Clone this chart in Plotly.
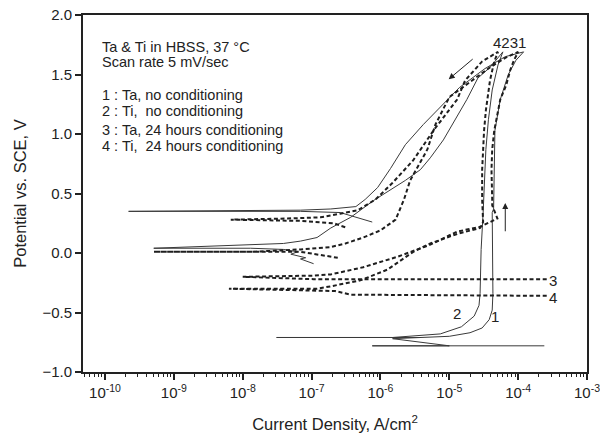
import numpy as np
import plotly.graph_objects as go

# ---------------- data (current density A/cm^2, potential V vs SCE) ----------------
# Curve 1: Ta, no conditioning (solid)
c1_I = [2.4e-4, 7.6e-7, 1.0e-5, 1.5e-6, 3.8e-6, 1.0e-5, 2.0e-5, 3.0e-5, 3.8e-5, 4.2e-5,
        4.3e-5, 4.3e-5, 4.2e-5, 4.4e-5, 4.5e-5, 4.6e-5, 5.5e-5, 7.2e-5, 9.3e-5, 1.2e-4,
        6.5e-5, 3.3e-5, 1.4e-5, 7.4e-6, 4.2e-6, 2.3e-6, 1.4e-6, 9.1e-7, 6.0e-7, 4.4e-7,
        1.9e-7, 6.9e-8, 2.2e-10, 6.9e-8, 2.6e-7, 7.6e-7]
c1_V = [-0.78, -0.78, -0.78, -0.72, -0.71, -0.70, -0.67, -0.63, -0.56, -0.48,
        -0.34, 0.03, 0.34, 0.37, 0.70, 1.03, 1.29, 1.50, 1.62, 1.69,
        1.65, 1.55, 1.39, 1.23, 1.08, 0.91, 0.71, 0.55, 0.45, 0.39,
        0.37, 0.36, 0.35, 0.35, 0.34, 0.26]

# Curve 2: Ti, no conditioning (solid)
c2_I = [3.8e-6, 3.1e-8, 1.5e-6, 7.4e-6, 1.5e-5, 2.3e-5, 2.7e-5, 2.8e-5, 2.9e-5, 3.1e-5,
        3.4e-5, 3.7e-5, 4.2e-5, 5.1e-5, 6.0e-5,
        3.9e-5, 2.6e-5, 1.8e-5, 1.2e-5, 8.2e-6, 5.3e-6, 3.8e-6, 2.3e-6, 1.4e-6, 7.9e-7,
        3.7e-7, 1.9e-7, 1.2e-7, 6.9e-8, 3.9e-8, 1.3e-8, 2.5e-9, 5.1e-10, 1.3e-8, 3.9e-8,
        6.3e-8, 5.0e-8, 8.2e-8, 6.9e-8, 1.07e-7]
c2_V = [-0.71, -0.71, -0.71, -0.68, -0.62, -0.53, -0.44, -0.34, 0.03, 0.34,
        0.87, 1.12, 1.37, 1.58, 1.69,
        1.56, 1.47, 1.29, 1.12, 0.95, 0.80, 0.70, 0.61, 0.53, 0.44,
        0.30, 0.21, 0.13, 0.10, 0.08, 0.07, 0.05, 0.04, 0.04, 0.03,
        0.01, -0.01, -0.04, -0.05, -0.09]

# Curve 3: Ta, 24 hours conditioning (dotted)
c3_I = [2.6e-4, 1.07e-7, 1.0e-8, 1.07e-7, 1.9e-7, 5.6e-7, 1.8e-6, 5.3e-6, 1.3e-5, 2.8e-5,
        5.0e-5, 4.2e-5, 4.2e-5, 4.1e-5, 4.2e-5, 4.5e-5, 5.5e-5, 6.7e-5, 7.7e-5, 8.7e-5, 1.0e-4,
        6.5e-5, 3.9e-5, 1.7e-5, 1.0e-5, 6.3e-6, 4.8e-6, 2.7e-6, 2.2e-6, 1.66e-6, 1.0e-6,
        5.6e-7, 3.1e-7, 1.9e-7, 6.9e-8, 1.3e-8, 5.1e-10, 6.9e-8, 2.4e-7]
c3_V = [-0.22, -0.22, -0.20, -0.19, -0.18, -0.12, -0.03, 0.07, 0.18, 0.22,
        0.29, 0.40, 0.45, 0.70, 0.87, 1.03, 1.29, 1.41, 1.54, 1.62, 1.69,
        1.64, 1.56, 1.41, 1.31, 1.08, 0.87, 0.61, 0.45, 0.28, 0.19,
        0.13, 0.08, 0.05, 0.03, 0.01, 0.01, 0.01, -0.04]

# Curve 4: Ti, 24 hours conditioning (dotted)
c4_I = [2.6e-4, 3.7e-7, 2.2e-7, 6.3e-9, 1.2e-7, 1.9e-7, 5.1e-7, 1.26e-6, 3.0e-6, 5.3e-6,
        1.3e-5, 2.8e-5, 3.1e-5, 3.0e-5, 3.0e-5, 3.1e-5, 3.2e-5, 3.4e-5, 3.9e-5, 4.5e-5, 5.1e-5,
        3.0e-5, 1.7e-5, 1.3e-5, 8.7e-6, 5.9e-6, 3.0e-6, 1.5e-6, 8.5e-7, 4.7e-7, 2.6e-7,
        1.35e-7, 4.5e-8, 6.7e-9, 6.9e-8, 2.1e-7, 3.3e-7]
c4_V = [-0.36, -0.35, -0.32, -0.30, -0.30, -0.28, -0.23, -0.14, 0.01, 0.08,
        0.16, 0.21, 0.26, 0.45, 0.70, 0.87, 1.03, 1.20, 1.45, 1.61, 1.69,
        1.61, 1.45, 1.29, 1.16, 1.03, 0.78, 0.59, 0.45, 0.36, 0.33,
        0.30, 0.29, 0.28, 0.27, 0.25, 0.21]

x_tick_vals = [1e-10, 1e-9, 1e-8, 1e-7, 1e-6, 1e-5, 1e-4, 1e-3]
x_tick_text = ["10<sup>-10</sup>", "10<sup>-9</sup>", "10<sup>-8</sup>", "10<sup>-7</sup>",
               "10<sup>-6</sup>", "10<sup>-5</sup>", "10<sup>-4</sup>", "10<sup>-3</sup>"]
y_tick_vals = [-1.0, -0.5, 0.0, 0.5, 1.0, 1.5, 2.0]

legend_lines = ["Ta & Ti in HBSS, 37 \u00b0C", "Scan rate 5 mV/sec",
                "1 : Ta, no conditioning", "2 : Ti,  no conditioning",
                "3 : Ta, 24 hours conditioning", "4 : Ti,  24 hours conditioning"]

# ---------------- figure ----------------
FONT = "Liberation Sans, Arial, sans-serif"
INK = "#222222"

fig = go.Figure()
solid = dict(color="#3a3a3a", width=1)
dotted = dict(color="#1e1e1e", width=2, dash="4px,2.6px")
for I, V, ln in [(c1_I, c1_V, solid), (c2_I, c2_V, solid),
                 (c3_I, c3_V, dotted), (c4_I, c4_V, dotted)]:
    fig.add_trace(go.Scatter(x=I, y=V, mode="lines", line=ln, showlegend=False,
                             hoverinfo="skip"))

minor_vals = [m * 10.0 ** e for e in range(-11, -3) for m in range(2, 10)]

fig.update_xaxes(type="log", range=[-10.32, -3], tickvals=x_tick_vals, ticktext=x_tick_text,
                 ticks="outside", ticklen=6, tickwidth=1.5, tickcolor=INK,
                 showline=True, linewidth=2, linecolor=INK, mirror=True,
                 showgrid=False, zeroline=False, automargin=False,
                 ticklabeloverflow="allow",
                 minor=dict(tickvals=minor_vals, ticks="outside", ticklen=3, tickwidth=1.2,
                            tickcolor=INK, showgrid=False),
                 tickfont=dict(family=FONT, size=15, color=INK),
                 title=dict(text="Current Density, A/cm<sup>2</sup>",
                            font=dict(family=FONT, size=16.5, color=INK), standoff=18))
fig.update_yaxes(range=[-1, 2], tickvals=y_tick_vals, tickformat=".1f",
                 ticks="outside", ticklen=6, tickwidth=1.5, tickcolor=INK,
                 showline=True, linewidth=2, linecolor=INK, mirror=True,
                 showgrid=False, zeroline=False, automargin=False,
                 ticklabeloverflow="allow",
                 tickfont=dict(family=FONT, size=15, color=INK),
                 title=dict(text="Potential vs. SCE, V",
                            font=dict(family=FONT, size=16.5, color=INK), standoff=12))

# legend text block
legend_y = [0.910, 0.868, 0.776, 0.730, 0.679, 0.632]
for txt, yy in zip(legend_lines, legend_y):
    fig.add_annotation(x=0.034, y=yy, xref="paper", yref="paper", text=txt, showarrow=False,
                       xanchor="left", yanchor="middle",
                       font=dict(family=FONT, size=14.5, color=INK))

# curve labels
labels = [("4231", 7.6e-5, 1.77), ("3", 3.2e-4, -0.23), ("4", 3.2e-4, -0.37),
          ("2", 1.3e-5, -0.51), ("1", 4.6e-5, -0.53)]
for txt, xi, vy in labels:
    fig.add_annotation(x=np.log10(xi), y=vy, xref="x", yref="y", text=txt, showarrow=False,
                       xanchor="center", yanchor="middle",
                       font=dict(family=FONT, size=15, color=INK))

# arrows (scan direction)
arrows = [(9.8e-6, 1.46, 2.3e-5, 1.64), (6.5e-5, 0.42, 6.5e-5, 0.17)]
for hx, hy, tx, ty in arrows:
    fig.add_annotation(x=np.log10(hx), y=hy, ax=np.log10(tx), ay=ty,
                       xref="x", yref="y", axref="x", ayref="y", text="",
                       showarrow=True, arrowhead=2, arrowsize=1.2, arrowwidth=1,
                       arrowcolor=INK)

fig.update_layout(width=600, height=438, margin=dict(l=83, r=13, t=15, b=66),
                  plot_bgcolor="white", paper_bgcolor="white",
                  font=dict(family=FONT, color=INK))

fig.write_html("out.html")
